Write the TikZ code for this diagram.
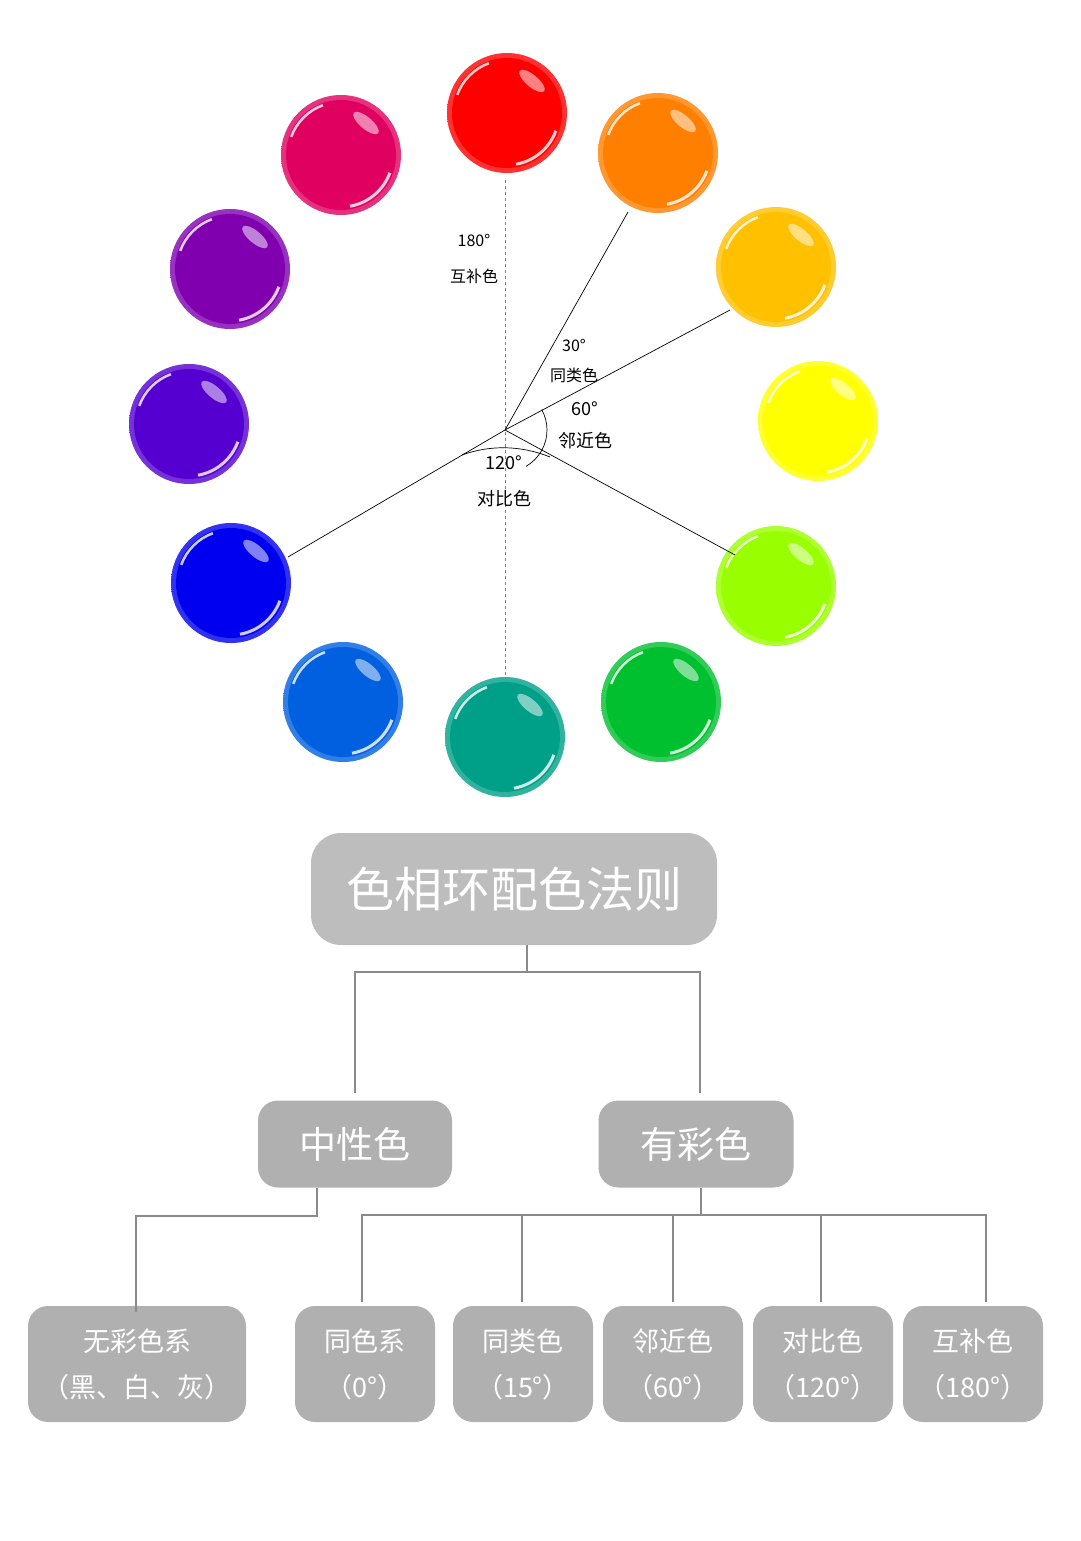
\documentclass[tikz,border=0pt]{standalone}
\usepackage{fontspec}
\setmainfont{Noto Sans CJK SC}
\begin{document}
\begin{tikzpicture}[x=1pt,y=-1pt,
  ball/.style={circle,minimum size=120pt,inner sep=0pt,draw=none},
  lbl/.style={font=\fontsize{16}{18}\selectfont,inner sep=0pt},
  box/.style={rounded corners=20pt,fill=#1,text=white,inner sep=0pt}]
\useasboundingbox (0,0) rectangle (1080,1541);
\fill[white] (0,0) rectangle (1080,1541);
\foreach \n/\x/\y/\c in {r/507/113/FF0000,o/658/153/FF7F00,yo/776/267/FFC000,y/818/421/FFFF00,l/776/586/99FF00,g/661/702/00C030,t/505/737/00A088,b2/343/702/0060E0,b/231/583/0000F0,v/189/424/5500D0,p/230/269/8000B0,m/341/155/E00060}{
  \definecolor{ballcol\n}{HTML}{\c}
  \node[ball,inner color=ballcol\n,outer color=ballcol\n!80!white] (\n) at (\x,\y) {};
  \fill[ballcol\n] (\x,\y) circle (55pt);
  \draw[white,opacity=0.8,line width=3pt] (\x,\y) ++(20:52) arc[start angle=20,end angle=80,radius=52];
  \fill[white,opacity=0.5] (\x+25,\y-32) ellipse [x radius=16pt,y radius=6pt,rotate=-40];
  \draw[white,opacity=0.8,line width=2.5pt] (\x,\y) ++(200:53) arc[start angle=200,end angle=250,radius=53];
}
\coordinate (c) at (505,430);
\coordinate (d1) at (505,180); \coordinate (d2) at (505,680);
\draw[gray,dashed,line width=0.6pt] (d1) -- (d2);
\coordinate (e1) at (628,212); \coordinate (e2) at (730,310);
\coordinate (e3) at (735,555); \coordinate (e4) at (288,557);
\draw[line width=0.7pt] (c)--(e1) (c)--(e2) (c)--(e3) (c)--(e4);
\draw[line width=0.7pt] (c)++(60:42) arc[start angle=60,end angle=29,radius=42];
\draw[line width=0.7pt] (c)++(-29:42) arc[start angle=-29,end angle=29,radius=42];
\draw[line width=0.7pt] (462,455) .. controls (490,445) and (520,445) .. (550,457);
\node[lbl] (a1) at (474,240) {180°}; \node[lbl] (a2) at (474,276) {互补色};
\node[lbl] (b1) at (574,345) {30°}; \node[lbl] (b2x) at (574,375) {同类色};
\node[lbl,font=\fontsize{18}{20}\selectfont] (c1) at (585,409) {60°}; \node[lbl,font=\fontsize{18}{20}\selectfont] (c2) at (585,441) {邻近色};
\node[lbl,font=\fontsize{18}{20}\selectfont] (d1l) at (504,463) {120°}; \node[lbl,font=\fontsize{18}{20}\selectfont] (d2l) at (504,499) {对比色};
% tree
\definecolor{g1}{HTML}{BDBDBD}\definecolor{g2}{HTML}{B0B0B0}\definecolor{ln}{HTML}{8A8A8A}
\node[box=g1,minimum width=406pt,minimum height=112pt,rounded corners=30pt,font=\fontsize{48}{50}\selectfont] (T) at (514,889) {色相环配色法则};
\node[box=g2,minimum width=194pt,minimum height=87pt,font=\fontsize{37}{40}\selectfont] (N) at (355,1144) {中性色};
\node[box=g2,minimum width=195pt,minimum height=87pt,font=\fontsize{37}{40}\selectfont] (Y) at (696,1144) {有彩色};
\foreach \n/\x/\w/\t in {k0/137/218/{无彩色系\\（黑、白、灰）},k1/365/140/{同色系\\（0°）},k2/523/140/{同类色\\（15°）},k3/673/140/{邻近色\\（60°）},k4/823/140/{对比色\\（120°）},k5/973/140/{互补色\\（180°）}}{
  \node[box=g2,minimum width=\w pt,minimum height=116pt,align=center,font=\fontsize{27}{46}\selectfont] (\n) at (\x,1364) {\t};
}
\draw[ln,line width=2.5pt] (527,945) -- (527,972) -- (355,972) -- (355,1093);
\draw[ln,line width=2.5pt] (527,972) -- (700,972) -- (700,1093);
\draw[ln,line width=2.5pt] (317,1188) -- (317,1216) -- (136,1216) -- (136,1312);
\draw[ln,line width=2.5pt] (701,1188) -- (701,1215);
\draw[ln,line width=2.5pt] (362,1302) -- (362,1215) -- (986,1215) -- (986,1302);
\foreach \x in {522,673,821}{\draw[ln,line width=2.5pt] (\x,1215) -- (\x,1302);}
\end{tikzpicture}
\end{document}
